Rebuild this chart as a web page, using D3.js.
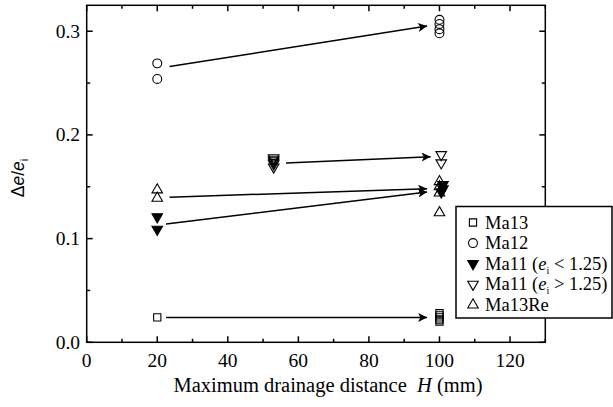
<!DOCTYPE html>
<html>
<head>
<meta charset="utf-8">
<script src="https://cdn.jsdelivr.net/npm/d3@7"></script>
<style>
  html, body { margin: 0; padding: 0; background: #fff; }
  svg { display: block; }
</style>
</head>
<body>
<svg id="chart" width="613" height="407"></svg>
<script>
// Relative change of void ratio against maximum drainage distance H
const xTicks = [0, 20, 40, 60, 80, 100, 120];
const yTicks = [0.0, 0.1, 0.2, 0.3];

// Ma13 (squares)
const ma13X = [20, 100, 100, 100, 100, 100];
const ma13Y = [0.024, 0.028, 0.026, 0.024, 0.022, 0.020];
// Ma12 (circles)
const ma12X = [20, 20, 100, 100, 100, 100];
const ma12Y = [0.269, 0.254, 0.311, 0.307, 0.302, 0.298];
// Ma11, e_i < 1.25 (filled down-triangles)
const ma11LoX = [20, 20, 101, 101, 100.5];
const ma11LoY = [0.121, 0.109, 0.152, 0.148, 0.145];
// Ma11, e_i > 1.25 (open down-triangles)
const ma11HiX = [53, 53, 53, 53, 53, 53, 100.5, 100.5];
const ma11HiY = [0.178, 0.1765, 0.175, 0.1735, 0.172, 0.169, 0.181, 0.173];
// Ma13Re (open up-triangles)
const ma13ReX = [20, 20, 100, 100, 100, 100];
const ma13ReY = [0.147, 0.139, 0.155, 0.150, 0.144, 0.125];

// Trend arrows (start x, start y, end x, end y)
const arrowX1 = [23.5, 56.5, 23.5, 22.5, 22.5];
const arrowY1 = [0.266, 0.173, 0.140, 0.114, 0.024];
const arrowX2 = [96.5, 97.5, 96.5, 96.5, 96.5];
const arrowY2 = [0.305, 0.179, 0.148, 0.145, 0.024];

const svg = d3.select("#chart");
const serif = "'Liberation Serif','Times New Roman',serif";
const sans = "'Liberation Sans',Arial,sans-serif";

const x = d3.scaleLinear().domain([0, 130]).range([86.7, 545.3]);
const y = d3.scaleLinear().domain([0, 0.325]).range([342.3, 5.3]);

const L = x.range()[0], R = x.range()[1], B = y.range()[0], T = y.range()[1];
const major = 6, minor = 3.5;

const axes = svg.append("g").attr("stroke", "#000").attr("stroke-width", 1.5);

// x ticks: bottom (up) and top (down), minor every 10
d3.range(0, 131, 10).forEach(v => {
  const len = v % 20 === 0 ? major : minor;
  axes.append("line").attr("x1", x(v)).attr("x2", x(v)).attr("y1", B).attr("y2", B - len);
  axes.append("line").attr("x1", x(v)).attr("x2", x(v)).attr("y1", T).attr("y2", T + len);
});
// y ticks: left (right) and right (left), minor every 0.05
d3.range(0, 0.326, 0.05).forEach((v, i) => {
  const len = i % 2 === 0 ? major : minor;
  axes.append("line").attr("x1", L).attr("x2", L + len).attr("y1", y(v)).attr("y2", y(v));
  axes.append("line").attr("x1", R).attr("x2", R - len).attr("y1", y(v)).attr("y2", y(v));
});
axes.append("rect").attr("x", L).attr("y", T).attr("width", R - L).attr("height", B - T)
  .attr("fill", "none");

// tick labels
svg.append("g").selectAll("text").data(xTicks).join("text")
  .attr("x", d => x(d)).attr("y", 367)
  .attr("text-anchor", "middle")
  .attr("font-family", serif).attr("font-size", 19.5)
  .text(d => d);
svg.append("g").selectAll("text").data(yTicks).join("text")
  .attr("x", 80).attr("y", d => y(d) + 6.5)
  .attr("text-anchor", "end")
  .attr("font-family", serif).attr("font-size", 19.5)
  .text(d => d3.format(".1f")(d));

// axis titles
const xt = svg.append("text").attr("x", 328).attr("y", 392).attr("text-anchor", "middle")
  .attr("font-family", serif).attr("font-size", 20.5);
xt.append("tspan").text("Maximum drainage distance\u00a0\u00a0");
xt.append("tspan").attr("font-style", "italic").text("H");
xt.append("tspan").text(" (mm)");

const yt = svg.append("text").attr("transform", "translate(24,178) rotate(-90)")
  .attr("text-anchor", "middle").attr("font-family", sans).attr("font-size", 17.5);
yt.append("tspan").text("\u0394");
yt.append("tspan").attr("font-style", "italic").text("e");
yt.append("tspan").text("/");
yt.append("tspan").attr("font-style", "italic").text("e");
yt.append("tspan").attr("font-size", 11).attr("dy", 4).text("i");

// arrows
svg.append("defs").append("marker")
  .attr("id", "head").attr("viewBox", "0 0 10 10").attr("refX", 10).attr("refY", 5)
  .attr("markerUnits", "userSpaceOnUse").attr("markerWidth", 12).attr("markerHeight", 9)
  .attr("orient", "auto")
  .append("path").attr("d", "M0,0L10,5L0,10L2.5,5Z").attr("fill", "#000");

svg.append("g").selectAll("line").data(d3.range(arrowX1.length)).join("line")
  .attr("x1", i => x(arrowX1[i])).attr("y1", i => y(arrowY1[i]))
  .attr("x2", i => x(arrowX2[i])).attr("y2", i => y(arrowY2[i]))
  .attr("stroke", "#000").attr("stroke-width", 1.5)
  .attr("marker-end", "url(#head)");

// markers
const sym = (type, size) => d3.symbol().type(type).size(size)();

function drawSeries(xs, ys, path, fill, rot) {
  svg.append("g").selectAll("path").data(d3.range(xs.length)).join("path")
    .attr("transform", i => `translate(${x(xs[i])},${y(ys[i])})${rot ? " rotate(180)" : ""}`)
    .attr("d", path)
    .attr("fill", fill).attr("stroke", "#000").attr("stroke-width", 1.1);
}
const sqPath = sym(d3.symbolSquare, 52);
const ciPath = sym(d3.symbolCircle, 62);
const trPath = sym(d3.symbolTriangle, 48);

drawSeries(ma13X, ma13Y, sqPath, "none", false);
drawSeries(ma12X, ma12Y, ciPath, "none", false);
drawSeries(ma11HiX, ma11HiY, trPath, "none", true);
drawSeries(ma13ReX, ma13ReY, trPath, "none", false);
drawSeries(ma11LoX, ma11LoY, trPath, "#000", true);

// legend
const legendNames = ["Ma13", "Ma12", "Ma11", "Ma11", "Ma13Re"];
const legendConds = ["", "", "<", ">", ""];
const legendSyms = [
  { d: sqPath, fill: "none", rot: false },
  { d: ciPath, fill: "none", rot: false },
  { d: trPath, fill: "#000", rot: true },
  { d: trPath, fill: "none", rot: true },
  { d: trPath, fill: "none", rot: false }
];
const lg = svg.append("g");
lg.append("rect").attr("x", 456).attr("y", 206.5).attr("width", 156).attr("height", 111.5)
  .attr("fill", "#fff").attr("stroke", "#000").attr("stroke-width", 1.5);
legendNames.forEach((name, i) => {
  const cy = 222.5 + i * 20.6;
  const s = legendSyms[i];
  lg.append("path").attr("d", s.d)
    .attr("transform", `translate(473,${cy})${s.rot ? " rotate(180)" : ""}`)
    .attr("fill", s.fill).attr("stroke", "#000").attr("stroke-width", 1.1);
  const t = lg.append("text").attr("x", 485).attr("y", cy + 6)
    .attr("font-family", serif).attr("font-size", 18.5);
  t.append("tspan").text(name);
  if (legendConds[i]) {
    t.append("tspan").text(" (");
    t.append("tspan").attr("font-style", "italic").text("e");
    t.append("tspan").attr("font-size", 10).attr("dy", 4).text("i");
    t.append("tspan").attr("dy", -4).text(` ${legendConds[i]} 1.25)`);
  }
});
</script>
</body>
</html>
